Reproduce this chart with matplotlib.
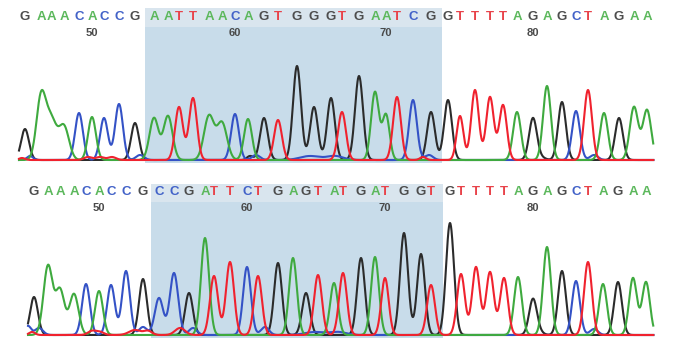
import numpy as np
import matplotlib
matplotlib.use("Agg")
import matplotlib.pyplot as plt

# ---------------- data ----------------
top_bases = "GAAACACCGAATTAACAGTGGGTGAATCGGTTTTAGAGCTAGAA"
top_pos = [25, 41, 51, 64, 79, 92, 104, 119, 135,
           154, 168, 179, 193, 209, 222, 235, 248, 264, 278, 297, 314, 331, 342,
           359, 375, 386, 397, 413, 431,
           448, 460, 475, 490, 503, 517, 533, 547, 562, 576, 588, 604, 619, 634, 647]
top_height = [31, 61, 40, 33, 47, 43, 42, 56, 37,
              42, 44, 53, 62, 44, 37, 46, 41, 42, 40, 94, 53, 62, 48,
              84, 68, 45, 63, 60, 48,
              60, 44, 70, 63, 55, 48, 42, 74, 58, 49, 70, 47, 42, 53, 50]
top_width = [3.9, 4.6, 5.5, 5.0, 3.9, 3.9, 3.9, 3.9, 3.9,
             4.5, 4.5, 3.9, 3.9, 5.0, 5.0, 3.9, 3.9, 3.9, 3.9, 4.0, 3.9, 3.9, 3.9,
             4.0, 3.9, 3.6, 3.9, 3.9, 3.9,
             3.9, 3.4, 3.8, 3.8, 3.8, 3.9, 3.9, 3.9, 3.9, 3.9, 3.9, 3.9, 3.9, 4.2, 4.2]
top_minor_base = ["C", "T", "T", "T", "T", "C", "G", "C", "C", "C", "T", "C", "C", "G"]
top_minor_pos = [30, 22, 88, 100, 112, 140, 250, 256, 310, 335, 423, 429, 594, 542]
top_minor_height = [4, 2, 3, 3, 3, 5, 4, 5, 4, 4, 3, 5, 5, 2]
top_minor_width = [3, 3, 4, 4, 4, 4, 3, 4, 10, 8, 3, 4, 4, 4]

bot_bases = "GAAACACCGCCGATTCTGAGTATGATGGTGTTTTAGAGCTAGAA"
bot_pos = [34, 48, 60, 74, 86, 99, 111, 126, 143,
           159, 174, 189, 205, 214, 230, 247, 258, 278, 293, 306, 318, 334, 343,
           361, 375, 385, 404, 421, 431,
           450, 461, 476, 490, 504, 518, 533, 547, 562, 576, 588, 603, 618, 633, 646]
bot_height = [38, 69, 45, 41, 51, 44, 50, 64, 56,
              37, 62, 42, 97, 59, 73, 68, 59, 72, 77, 42, 60, 52, 62,
              77, 78, 57, 102, 81, 50,
              112, 61, 68, 63, 57, 58, 36, 88, 64, 54, 73, 51, 53, 57, 53]
bot_width = [3.9, 4.5, 4.5, 4.5, 3.9, 3.9, 3.9, 3.9, 3.9,
             4.2, 4.2, 3.9, 4.0, 4.0, 4.0, 3.9, 3.9, 3.9, 3.9, 3.9, 3.9, 3.9, 3.9,
             3.9, 3.9, 3.7, 4.0, 3.9, 3.9,
             4.0, 3.9, 3.9, 3.9, 3.9, 3.9, 3.9, 3.9, 3.9, 3.9, 3.9, 3.9, 3.9, 3.9, 3.9]
bot_minor_base = ["C", "C", "T", "T", "T", "T", "T", "C", "T", "C", "C", "C", "C", "C", "G"]
bot_minor_pos = [28, 39, 32, 92, 100, 135, 148, 143, 180, 193, 265, 315, 338, 594, 540]
bot_minor_height = [9, 7, 3, 4, 3, 5, 4, 8, 7, 7, 8, 3, 3, 6, 2]
bot_minor_width = [3, 4, 3, 4, 4, 6, 4, 4, 5, 4, 4, 10, 8, 4, 4]

first_number = 45          # base number of the first shown base
number_ticks = [50, 60, 70, 80]
highlight_start, highlight_end = 9, 28   # indices of highlighted bases

trace_color = {"G": "#2b2b2b", "A": "#3faa3f", "C": "#3452c6", "T": "#f0222e"}
letter_color = {"G": "#4d4d4d", "A": "#5cb85c", "C": "#4262c8", "T": "#e8434a"}

# ---------------- drawing ----------------
fig = plt.figure(figsize=(6.88, 3.55), dpi=100)
W, H = 688, 355


def panel(ax_rect_px, baseline_px, bases, pos, height, width,
          mbase, mpos, mheight, mwidth, hl_top_px, band_px):
    top_px, bot_px = ax_rect_px
    ax = fig.add_axes([0, 1 - bot_px / H, 1, (bot_px - top_px) / H])
    ax.set_xlim(0, W)
    ax.set_ylim(-(bot_px - baseline_px), baseline_px - top_px)
    ax.axis("off")

    # highlight region
    x0 = (pos[highlight_start - 1] + pos[highlight_start]) / 2
    x1 = (pos[highlight_end] + pos[highlight_end + 1]) / 2 + 2
    y_top = baseline_px - hl_top_px
    y_band = baseline_px - band_px
    ax.fill_between([x0, x1], -2.5, y_band, color="#c8dcea", lw=0, zorder=0)
    ax.fill_between([x0, x1], y_band, y_top, color="#d9e5ee", lw=0, zorder=0)

    # traces
    xs = np.arange(pos[0] - 6, 653.5, 0.25)
    chans = {b: np.zeros_like(xs) for b in "GCAT"}
    for b, p, h, w in zip(bases, pos, height, width):
        chans[b] += h * np.exp(-((xs - p) ** 2) / (2 * w * w))
    for b, p, h, w in zip(mbase, mpos, mheight, mwidth):
        chans[b] += h * np.exp(-((xs - p) ** 2) / (2 * w * w))
    for b in "GCAT":
        ax.plot(xs, chans[b], color=trace_color[b], lw=1.5, zorder=3,
                solid_joinstyle="round")
    return ax


def draw_text(ax, baseline_px, letter_px, number_px, bases, pos):
    for b, p in zip(bases, pos):
        ax.text(p, baseline_px - letter_px, b, color=letter_color[b],
                fontsize=9.5, fontweight="bold", family="Liberation Sans",
                ha="center", va="center", zorder=5)
    for n in number_ticks:
        i = n - first_number
        ax.text(pos[i], baseline_px - number_px, str(n), color="#4a4a4a",
                fontsize=8, fontweight="bold", family="Liberation Sans",
                ha="center", va="center", zorder=5)


ax1 = panel((0, 175), 160, top_bases, top_pos, top_height, top_width,
            top_minor_base, top_minor_pos, top_minor_height, top_minor_width,
            8, 27)
draw_text(ax1, 160, 17.5, 33, top_bases, top_pos)

ax2 = panel((175, 355), 335, bot_bases, bot_pos, bot_height, bot_width,
            bot_minor_base, bot_minor_pos, bot_minor_height, bot_minor_width,
            184, 202)
draw_text(ax2, 335, 192, 208, bot_bases, bot_pos)

fig.savefig("out.png", dpi=100, facecolor="white")
